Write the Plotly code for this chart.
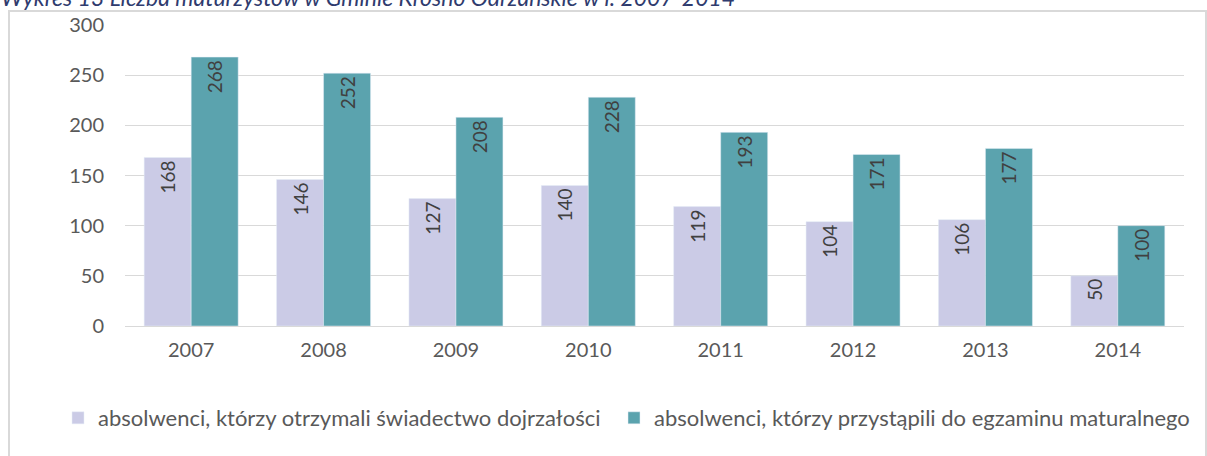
import plotly.graph_objects as go

years = ["2007", "2008", "2009", "2010", "2011", "2012", "2013", "2014"]
otrzymali = [168, 146, 127, 140, 119, 104, 106, 50]
przystapili = [268, 252, 208, 228, 193, 171, 177, 100]
name1 = "absolwenci, którzy otrzymali świadectwo dojrzałości"
name2 = "absolwenci, którzy przystąpili do egzaminu maturalnego"
title = "Wykres 13 Liczba maturzystów w Gminie Krosno Odrzańskie w l. 2007-2014"

FONT = "Lato"
TXT = "#404040"
AX = "#595959"

fig = go.Figure()
fig.add_trace(go.Bar(x=years, y=otrzymali, name=name1, marker_color="#CBCBE6",
                     text=otrzymali, textposition="inside", insidetextanchor="end",
                     textangle=-90, constraintext="none", legend="legend",
                     textfont=dict(family=FONT, size=19, color=TXT)))
fig.add_trace(go.Bar(x=years, y=przystapili, name=name2, marker_color="#5BA3AE",
                     text=przystapili, textposition="inside", insidetextanchor="end",
                     textangle=-90, constraintext="none", legend="legend2",
                     textfont=dict(family=FONT, size=19, color=TXT)))

W, H = 1207, 456
L, R, T, B = 125, 23, 25, 130
pw, ph = W - L - R, H - T - B

def px_x(p):
    return (p - L) / pw

def px_y(p):
    return (H - B - p) / ph

leg_common = dict(orientation="h", xanchor="left", y=px_y(418), yanchor="middle",
                  font=dict(family=FONT, size=22, color=AX), itemwidth=30,
                  bgcolor="rgba(0,0,0,0)")

fig.update_layout(
    width=W, height=H,
    margin=dict(l=L, r=R, t=T, b=B, autoexpand=False),
    plot_bgcolor="white", paper_bgcolor="white",
    barmode="group", bargap=0.29, bargroupgap=0,
    font=dict(family=FONT, size=20, color=AX),
    showlegend=True,
    legend=dict(x=px_x(58), **leg_common),
    legend2=dict(x=px_x(614), **leg_common),
    yaxis=dict(range=[0, 300], dtick=50, showgrid=True, gridcolor="#D9D9D9", gridwidth=1,
               zeroline=True, zerolinecolor="#D9D9D9", zerolinewidth=1,
               showline=False, ticks="", ticklabelstandoff=20,
               tickfont=dict(family=FONT, size=20, color=AX)),
    xaxis=dict(showgrid=False, showline=False, ticks="", ticklabelstandoff=10,
               tickfont=dict(family=FONT, size=20, color=AX)),
)

fig.add_shape(type="rect", xref="paper", yref="paper",
              x0=px_x(9), x1=px_x(1206), y0=px_y(470), y1=px_y(11),
              line=dict(color="#D9D9D9", width=2), fillcolor="rgba(0,0,0,0)", layer="below")

fig.add_annotation(text="<i>" + title + "</i>", xref="paper", yref="paper",
                   x=px_x(-1), xanchor="left", y=px_y(13), yanchor="bottom",
                   showarrow=False, font=dict(family=FONT, size=23, color="#2F3B6E"))

fig.write_html("out.html", config={"displayModeBar": False},
               post_script="document.body.style.margin='0';document.body.style.overflow='hidden';")
